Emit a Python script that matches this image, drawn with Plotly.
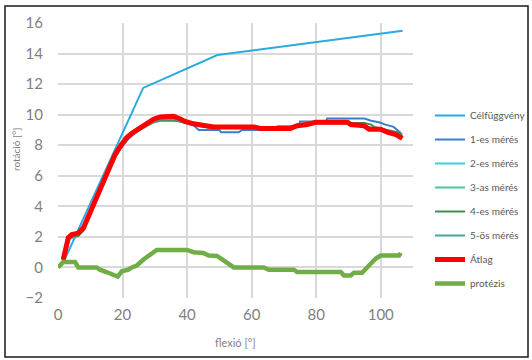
import plotly.graph_objects as go

# ---- data ----
cel_x = [1.6, 26.4, 49.4, 106.8]
cel_y = [0.3, 11.75, 13.9, 15.5]

avg_x = [1.6, 3.2, 4.3, 6.3, 7.9, 10, 12, 14, 16, 17.7, 19.5, 21.3, 23, 24.4, 26, 27.5, 29.6, 31.7, 33, 35.8,
         37.9, 39.4, 42, 43.6, 46.2, 48.2, 60.7, 62.7, 72, 74.1, 77.2, 79.8, 89.7, 90.7, 94.8, 96.4, 100, 102,
         104.7, 106.7]
avg_y = [0.5, 1.95, 2.15, 2.25, 2.6, 3.6, 4.6, 5.6, 6.5, 7.4, 8.0, 8.5, 8.8, 9.0, 9.25, 9.45, 9.7, 9.85, 9.85, 9.9,
         9.72, 9.56, 9.4, 9.35, 9.24, 9.2, 9.2, 9.1, 9.1, 9.28, 9.35, 9.5, 9.5, 9.35, 9.28, 9.05, 9.05, 8.85,
         8.7, 8.45]

m1_x = [1.6, 3.2, 4.3, 6.3, 7.9, 10, 12, 14, 16, 17.7, 19.5, 21.3, 23, 24.4, 26, 27.5, 29.6, 31.7, 35.8, 37.9,
        39.4, 42, 43.6, 50, 50.5, 56, 57, 67, 68, 74.5, 75, 83, 83.4, 95, 97, 99.5, 101.5, 104, 106.2]
m1_y = [0.4, 1.8, 2.0, 2.1, 2.45, 3.5, 4.5, 5.5, 6.4, 7.2, 7.8, 8.3, 8.65, 8.85, 9.1, 9.3, 9.5, 9.6, 9.6, 9.55,
        9.45, 9.3, 9.0, 9.0, 8.85, 8.85, 9.0, 9.0, 9.25, 9.25, 9.55, 9.55, 9.75, 9.75, 9.6, 9.5, 9.35, 9.2, 8.8]

m2_x = [1.6, 3.5, 6.3, 8, 10, 12, 14, 16, 18, 20, 22, 24, 26, 28, 30, 32, 36, 38, 40, 42, 44, 47, 60, 63, 72,
        75, 80, 90, 91, 95, 97, 100, 102, 105, 106.7]
m2_y = [0.45, 1.9, 2.2, 2.55, 3.55, 4.55, 5.55, 6.45, 7.5, 8.2, 8.6, 8.95, 9.2, 9.45, 9.65, 9.75, 9.75, 9.65,
        9.5, 9.4, 9.3, 9.2, 9.2, 9.1, 9.1, 9.3, 9.45, 9.45, 9.35, 9.3, 9.1, 9.05, 8.9, 8.75, 8.55]

m3_x = [1.6, 3.5, 6.3, 8, 10, 12, 14, 16, 18, 20, 22, 24, 26, 28, 30, 32, 36, 38, 40, 42, 44, 47, 60, 63, 72,
        75, 80, 90, 91, 95, 97, 100, 102, 105, 106.7]
m3_y = [0.4, 1.85, 2.1, 2.5, 3.5, 4.5, 5.5, 6.4, 7.4, 8.1, 8.55, 8.9, 9.15, 9.4, 9.6, 9.7, 9.7, 9.6, 9.45, 9.35,
        9.25, 9.15, 9.15, 9.05, 9.05, 9.25, 9.4, 9.4, 9.3, 9.25, 9.05, 9.0, 8.85, 8.7, 8.6]

m4_x = [1.6, 3.5, 6.3, 8, 10, 12, 14, 16, 18, 20, 22, 24, 26, 28, 30, 32, 36, 38, 40, 42, 44, 47, 60, 63, 72,
        75, 80, 92, 95, 97, 98, 100, 102, 105, 106.7]
m4_y = [0.45, 1.95, 2.05, 2.45, 3.45, 4.45, 5.45, 6.35, 7.35, 8.05, 8.5, 8.85, 9.1, 9.35, 9.55, 9.65, 9.65,
        9.55, 9.45, 9.35, 9.25, 9.15, 9.15, 9.1, 9.1, 9.3, 9.45, 9.45, 9.45, 9.35, 9.2, 9.1, 9.0, 8.85, 8.7]

m5_x = [1.6, 3.5, 6.3, 8, 10, 12, 14, 16, 18, 20, 22, 24, 26, 28, 30, 32, 36, 38, 40, 42, 44, 47, 60, 63, 72,
        75, 80, 90, 93, 96, 98, 100, 102, 105, 106.7]
m5_y = [0.5, 1.9, 2.15, 2.5, 3.5, 4.5, 5.5, 6.45, 7.45, 8.1, 8.55, 8.9, 9.15, 9.4, 9.6, 9.7, 9.7, 9.6, 9.5, 9.4,
        9.3, 9.2, 9.2, 9.1, 9.1, 9.3, 9.45, 9.45, 9.35, 9.2, 9.1, 9.0, 8.9, 8.75, 8.6]

pro_x = [0, 1.6, 5.3, 6.3, 12, 13, 15, 17.2, 18.5, 19.8, 21.8, 22.9, 24.4, 26.5, 28, 30.6, 40, 42, 45, 46.7,
         49.3, 51, 52.4, 54.5, 63.8, 65.3, 73.1, 74.1, 87.6, 88.6, 90.7, 91.7, 94.2, 95.3, 96.9, 98.4, 100,
         105.7, 106.2]
pro_y = [0, 0.35, 0.35, 0, 0, -0.15, -0.3, -0.52, -0.6, -0.25, -0.15, 0, 0.13, 0.52, 0.78, 1.15, 1.15, 1.0,
         0.95, 0.78, 0.75, 0.52, 0.26, 0, 0, -0.15, -0.15, -0.3, -0.3, -0.52, -0.52, -0.35, -0.35, -0.1, 0.2,
         0.57, 0.78, 0.78, 0.96]

x_ticks = [0, 20, 40, 60, 80, 100]
y_ticks = [-2, 0, 2, 4, 6, 8, 10, 12, 14, 16]

series = [
    ("Célfüggvény", cel_x, cel_y, "#29abe2", 2),
    ("1-es mérés", m1_x, m1_y, "#3a7fcc", 2),
    ("2-es mérés", m2_x, m2_y, "#3ccfe0", 2),
    ("3-as mérés", m3_x, m3_y, "#40c8a0", 2),
    ("4-es mérés", m4_x, m4_y, "#3f8f50", 2),
    ("5-ös mérés", m5_x, m5_y, "#4aa3a0", 2),
    ("Átlag", avg_x, avg_y, "#ff0000", 5),
    ("protézis", pro_x, pro_y, "#70ad47", 4.5),
]

fig = go.Figure()
for i, (name, xs, ys, col, w) in enumerate(series):
    fig.add_trace(go.Scatter(x=xs, y=ys, mode="lines", name=name, legendgroup=f"g{i}",
                             line=dict(color=col, width=w)))

font_fam = "Lato, Open Sans, sans-serif"
L, R, T, B = 58, 119, 23, 62
W, H = 532, 360
pw, ph = W - L - R, H - T - B

fig.update_layout(
    width=W, height=H,
    margin=dict(l=L, r=R, t=T, b=B, autoexpand=False),
    paper_bgcolor="white", plot_bgcolor="white",
    font=dict(family=font_fam, color="#7f7f7f"),
    showlegend=True,
    legend=dict(x=(430 - L) / pw, y=(H - B - 101) / ph,
                xanchor="left", yanchor="top",
                font=dict(size=10, color="#595959", family=font_fam),
                tracegroupgap=5, itemwidth=30, bgcolor="rgba(0,0,0,0)"),
    xaxis=dict(range=[0, 110], tickvals=x_ticks, showgrid=True, gridcolor="#d9d9d9", gridwidth=1.5,
               zeroline=False, showline=False, tickfont=dict(size=15, color="#7f7f7f"),
               ticks="", ticklabelstandoff=6, automargin=False),
    yaxis=dict(range=[-2, 16], tickvals=y_ticks, showgrid=True, gridcolor="#d9d9d9", gridwidth=1.5,
               zeroline=False, showline=False, tickfont=dict(size=15, color="#7f7f7f"),
               ticks="", ticklabelstandoff=14, automargin=False),
    annotations=[
        dict(text="flexió [°]", xref="paper", yref="paper", x=0.5, y=(H - B - 342) / ph,
             showarrow=False, font=dict(size=11, color="#7f7f7f"), yanchor="middle"),
        dict(text="rotáció [°]", xref="paper", yref="paper", x=(16 - L) / pw, y=(H - B - 150) / ph,
             showarrow=False, textangle=-90, font=dict(size=10, color="#7f7f7f"), xanchor="center"),
    ],
    shapes=[dict(type="rect", xref="paper", yref="paper",
                 x0=(5 - L) / pw, x1=(528 - L) / pw, y0=(H - B - 357) / ph, y1=(H - B - 6) / ph,
                 line=dict(color="#1a1a1a", width=1.5), fillcolor="rgba(0,0,0,0)", layer="above")],
)

fig.write_html("out.html", config={"displayModeBar": False},
               post_script="document.body.style.margin='0';document.body.style.padding='0';")
